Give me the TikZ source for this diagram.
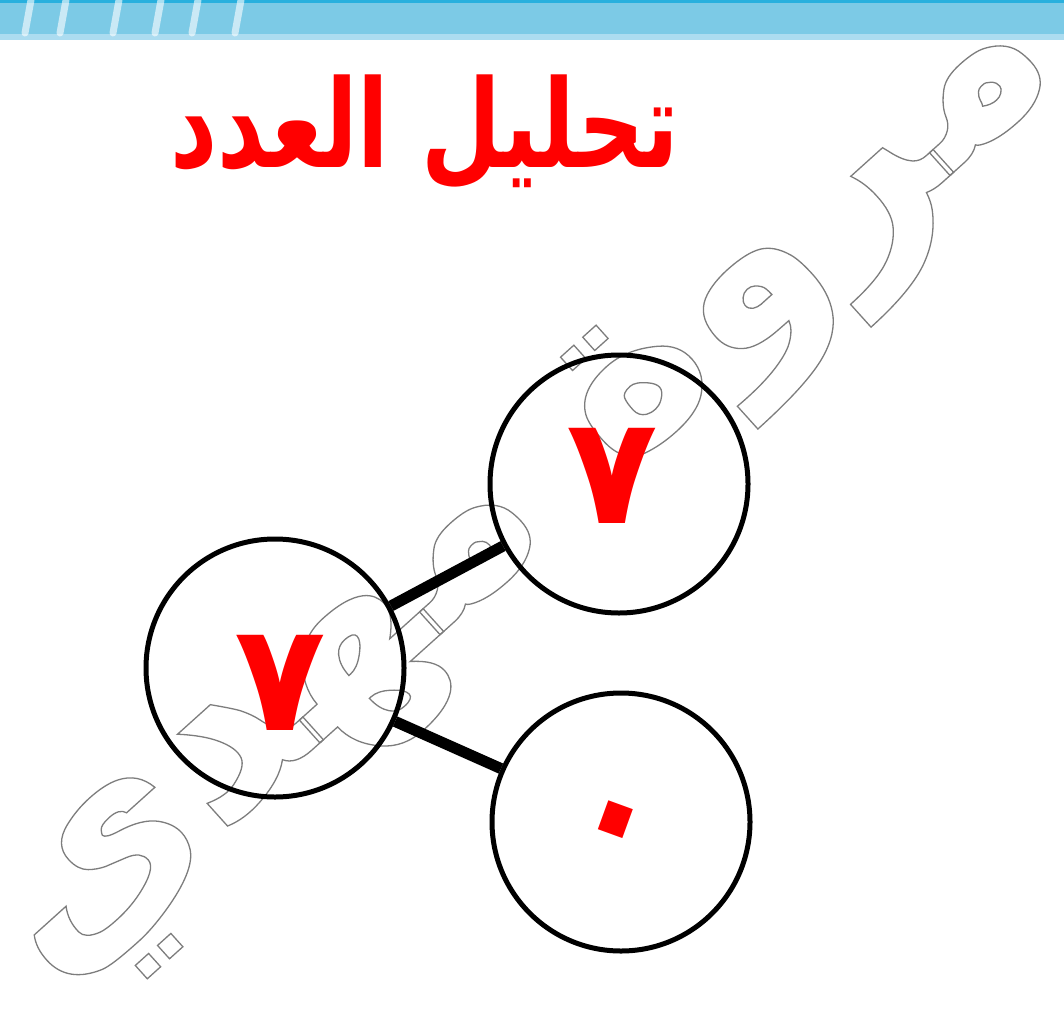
\documentclass[tikz,border=0pt]{standalone}
\usepackage{fontspec}
\usepackage{graphicx}
\usetikzlibrary{positioning}
\newfontfamily\arabicfont[Script=Arabic]{DejaVu Sans}
\TeXXeTstate=1
\definecolor{bandblue}{RGB}{124,202,230}
\definecolor{banddark}{RGB}{40,176,222}
\definecolor{bandpale}{RGB}{172,220,240}
\definecolor{numred}{RGB}{255,0,0}
\definecolor{markgray}{RGB}{125,125,125}
\newcommand{\outlinetext}[1]{\special{pdf:literal direct 1 Tr 1.3 w}#1\special{pdf:literal direct 0 Tr}}
\tikzset{
  numcircle/.style={
    draw=black,
    line width=5pt,
    circle,
    minimum size=258pt,
    inner sep=0pt
  },
  digit/.style={text=numred, inner sep=0pt, font=\arabicfont\bfseries\fontsize{150}{150}\selectfont},
  link/.style={draw=black, line width=11pt}
}

\begin{document}
\begin{tikzpicture}[x=1pt, y=-1pt]
    \useasboundingbox (0,0) rectangle (1064,1016);
    % band along the top
    \fill[bandblue] (0,0) rectangle (1064,36);
    \fill[banddark] (0,0) rectangle (1064,3);
    \fill[bandpale] (0,34) rectangle (1064,40);
    \foreach \xs in {25,60,113,155,192,235}
      \draw[white, opacity=0.6, line width=7pt, line cap=round] (\xs+6,0) -- (\xs,33);

    \node[text=numred, inner sep=0pt, anchor=base, font=\arabicfont\bfseries\fontsize{100}{100}\selectfont] (title) at (425,168) {\scalebox{0.92}[1.22]{\beginR تحليل العدد\endR}};

    % watermark
    \node[rotate=42, inner sep=0pt, text=markgray] (mark) at (535,505) {\arabicfont\bfseries\fontsize{245}{245}\selectfont\outlinetext{\beginR مروة مهدي\endR}};

    \node[numcircle] (numtop) at (619,484) {};
    \node[numcircle] (numleft) at (275,668) {};
    \node[numcircle] (numbottom) at (621,822) {};
    \draw[link] (numleft) -- (numtop);
    \draw[link] (numleft) -- (numbottom);

    \node[digit] (dtop) at (612,476) {٧};
    \node[digit] (dleft) at (280,683) {٧};
    \node[digit, rotate=-20] (dbottom) at (610,836) {\scalebox{1}[1.2]{٠}};
  \end{tikzpicture}
\end{document}
